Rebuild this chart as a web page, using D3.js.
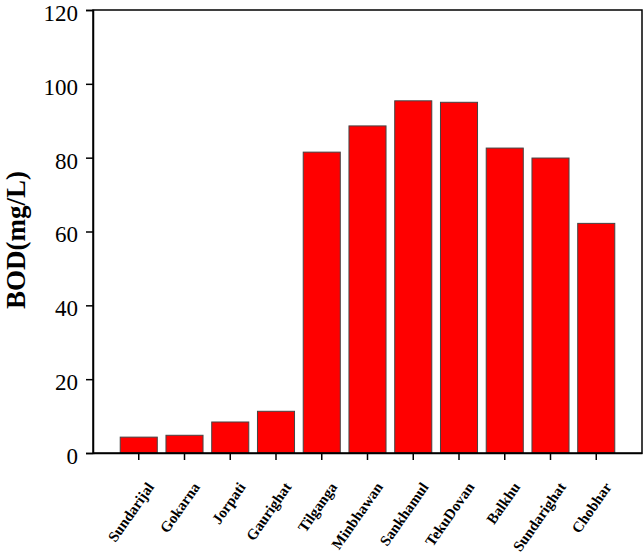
<!DOCTYPE html>
<html>
<head>
<meta charset="UTF-8">
<script src="https://d3js.org/d3.v7.min.js"></script>
<style>
  body { margin: 0; background: #fff; }
  .tick text { font-family: "Liberation Serif", "Times New Roman", serif; }
</style>
</head>
<body>
<svg id="chart" width="644" height="555"></svg>
<script>
var sites = ['Sundarijal', 'Gokarna', 'Jorpati', 'Gaurighat', 'Tilganga', 'Minbhawan',
             'Sankhamul', 'TekuDovan', 'Balkhu', 'Sundarighat', 'Chobhar'];
var bod = [4.3, 4.8, 8.4, 11.3, 81.5, 88.6, 95.4, 95.0, 82.6, 79.9, 62.2];
var yTicks = [0, 20, 40, 60, 80, 100, 120];

var margin = {top: 10, right: 2, bottom: 102, left: 93},
    width = 644 - margin.left - margin.right,
    height = 555 - margin.top - margin.bottom;

var svg = d3.select('#chart');
var g = svg.append('g')
    .attr('transform', 'translate(' + margin.left + ',' + margin.top + ')');

var x = d3.scaleBand().domain(sites).range([0, width])
    .paddingInner(0.19).paddingOuter(0.595);
var y = d3.scaleLinear().domain([0, 120]).range([height, 0]);

// bars
g.selectAll('rect.bar')
  .data(sites)
  .enter().append('rect')
    .attr('class', 'bar')
    .attr('x', function(d) { return x(d); })
    .attr('y', function(d, i) { return y(bod[i]); })
    .attr('width', x.bandwidth())
    .attr('height', function(d, i) { return height - y(bod[i]); })
    .attr('fill', '#ff0000')
    .attr('stroke', '#444')
    .attr('stroke-width', 1);

// frame
g.append('rect')
    .attr('width', width).attr('height', height)
    .attr('fill', 'none').attr('stroke', '#000').attr('stroke-width', 1.5);

// y axis
var yAxis = g.append('g')
    .call(d3.axisLeft(y).tickValues(yTicks).tickSize(7).tickPadding(8));
yAxis.select('.domain').attr('stroke-width', 1.5);
yAxis.selectAll('line').attr('stroke-width', 1.5);
yAxis.selectAll('text')
    .style('font-size', '23px')
    .attr('dy', '0.45em')
    .attr('fill', '#000');

// x axis
var xAxis = g.append('g')
    .attr('transform', 'translate(0,' + height + ')')
    .call(d3.axisBottom(x).tickSize(7).tickSizeOuter(0));
xAxis.select('.domain').attr('stroke-width', 1.5);
xAxis.selectAll('line').attr('stroke-width', 1.5);
xAxis.selectAll('text')
    .style('font-size', '15px')
    .style('font-weight', 'bold')
    .attr('fill', '#000')
    .style('text-anchor', 'end')
    .attr('x', 0)
    .attr('y', 0)
    .attr('dy', 0)
    .attr('transform', 'translate(16,34) rotate(-55)');

// y label
svg.append('text')
    .attr('transform', 'translate(25,240) rotate(-90)')
    .attr('text-anchor', 'middle')
    .style('font-family', '"Liberation Serif", "Times New Roman", serif')
    .style('font-size', '27px')
    .style('font-weight', 'bold')
    .text('BOD(mg/L)');
</script>
</body>
</html>
